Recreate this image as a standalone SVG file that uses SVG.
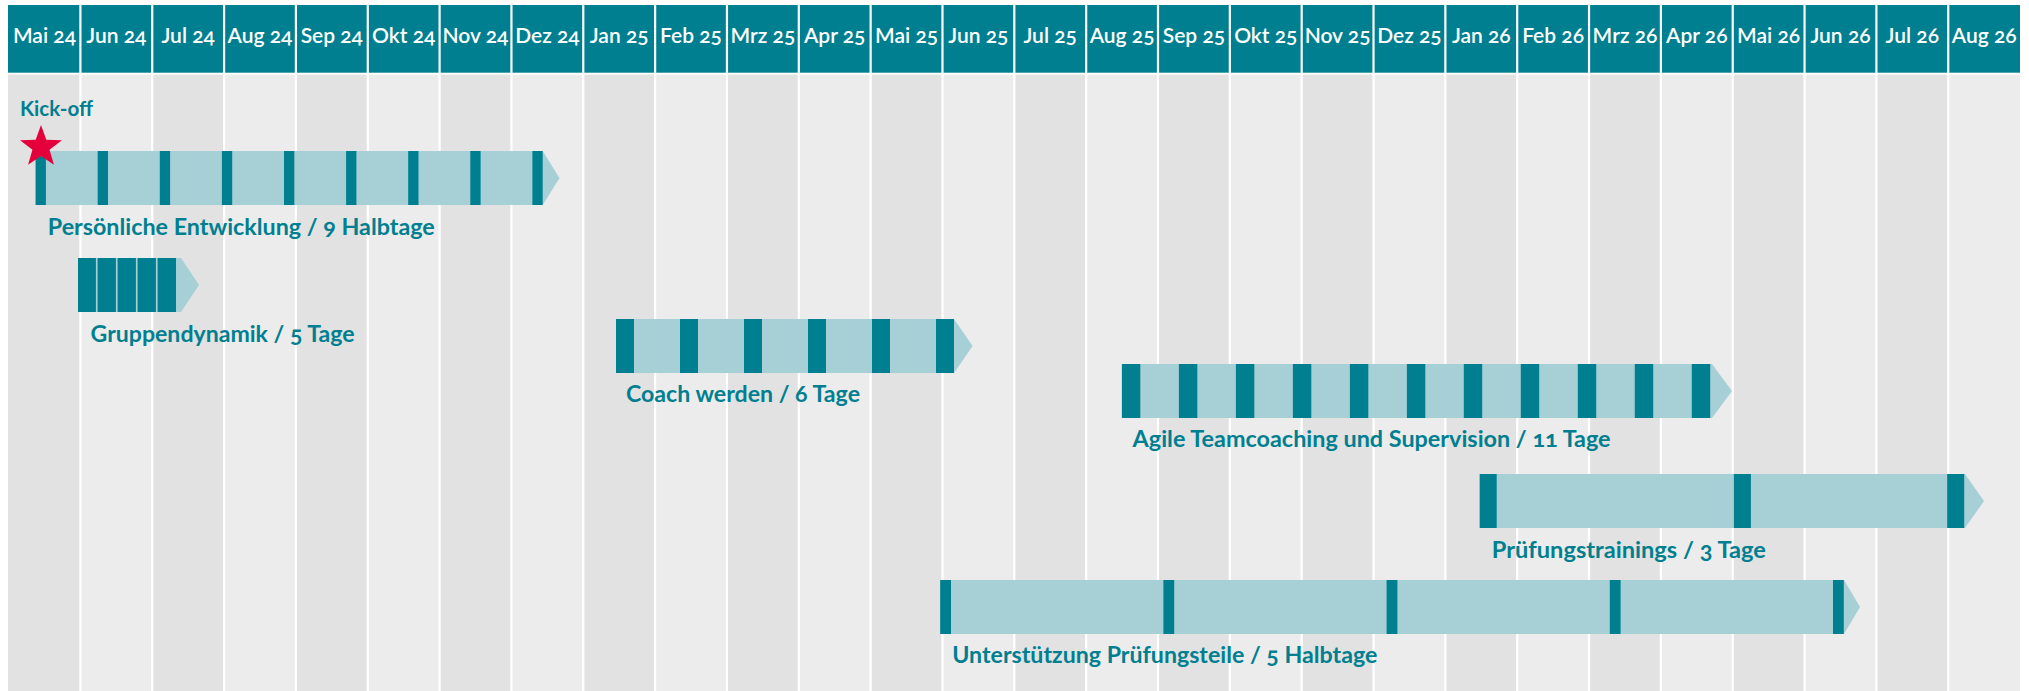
<svg xmlns="http://www.w3.org/2000/svg" width="2029" height="691" viewBox="0 0 2029 691">
<style>
.bgL{fill:#ececec}
.bgD{fill:#e2e2e2}
.hdr{fill:#007f90}
.sep{stroke:#ffffff;stroke-width:2.2}
.ht{font-family:Lato,"Liberation Sans",sans-serif;font-size:21px;font-weight:600;fill:#ffffff;text-anchor:middle;font-variant-numeric:oldstyle-nums}
.lt{fill:#a6cfd6}
.dk{fill:#007f90}
.lbl{font-family:Lato,"Liberation Sans",sans-serif;font-size:23px;font-weight:700;fill:#007f90;font-variant-numeric:oldstyle-nums}
.star{fill:#e4003b}
</style>
<rect x="0" y="0" width="2029" height="691" fill="#ffffff"/>
<g id="grid">
<rect class="bgL" x="8" y="74.7" width="2012" height="617"/>
<rect class="bgD" x="8" y="74.7" width="72.4" height="617"/>
<rect class="bgD" x="152.24" y="74.7" width="71.84" height="617"/>
<rect class="bgD" x="295.92" y="74.7" width="71.84" height="617"/>
<rect class="bgD" x="439.6" y="74.7" width="71.84" height="617"/>
<rect class="bgD" x="583.28" y="74.7" width="71.84" height="617"/>
<rect class="bgD" x="726.96" y="74.7" width="71.84" height="617"/>
<rect class="bgD" x="870.64" y="74.7" width="71.84" height="617"/>
<rect class="bgD" x="1014.32" y="74.7" width="71.84" height="617"/>
<rect class="bgD" x="1158" y="74.7" width="71.84" height="617"/>
<rect class="bgD" x="1301.68" y="74.7" width="71.84" height="617"/>
<rect class="bgD" x="1445.36" y="74.7" width="71.84" height="617"/>
<rect class="bgD" x="1589.04" y="74.7" width="71.84" height="617"/>
<rect class="bgD" x="1732.72" y="74.7" width="71.84" height="617"/>
<rect class="bgD" x="1876.4" y="74.7" width="71.84" height="617"/>
<rect class="hdr" x="8" y="5" width="2012" height="67.7"/>
<g class="sep">
<line x1="80.4" y1="5" x2="80.4" y2="691"/>
<line x1="152.24" y1="5" x2="152.24" y2="691"/>
<line x1="224.08" y1="5" x2="224.08" y2="691"/>
<line x1="295.92" y1="5" x2="295.92" y2="691"/>
<line x1="367.76" y1="5" x2="367.76" y2="691"/>
<line x1="439.6" y1="5" x2="439.6" y2="691"/>
<line x1="511.44" y1="5" x2="511.44" y2="691"/>
<line x1="583.28" y1="5" x2="583.28" y2="691"/>
<line x1="655.12" y1="5" x2="655.12" y2="691"/>
<line x1="726.96" y1="5" x2="726.96" y2="691"/>
<line x1="798.8" y1="5" x2="798.8" y2="691"/>
<line x1="870.64" y1="5" x2="870.64" y2="691"/>
<line x1="942.48" y1="5" x2="942.48" y2="691"/>
<line x1="1014.32" y1="5" x2="1014.32" y2="691"/>
<line x1="1086.16" y1="5" x2="1086.16" y2="691"/>
<line x1="1158" y1="5" x2="1158" y2="691"/>
<line x1="1229.84" y1="5" x2="1229.84" y2="691"/>
<line x1="1301.68" y1="5" x2="1301.68" y2="691"/>
<line x1="1373.52" y1="5" x2="1373.52" y2="691"/>
<line x1="1445.36" y1="5" x2="1445.36" y2="691"/>
<line x1="1517.2" y1="5" x2="1517.2" y2="691"/>
<line x1="1589.04" y1="5" x2="1589.04" y2="691"/>
<line x1="1660.88" y1="5" x2="1660.88" y2="691"/>
<line x1="1732.72" y1="5" x2="1732.72" y2="691"/>
<line x1="1804.56" y1="5" x2="1804.56" y2="691"/>
<line x1="1876.4" y1="5" x2="1876.4" y2="691"/>
<line x1="1948.24" y1="5" x2="1948.24" y2="691"/>
</g>
</g>
<g id="header">
<text class="ht" x="44.5" y="43">Mai 24</text>
<text class="ht" x="116.3" y="43">Jun 24</text>
<text class="ht" x="188.2" y="43">Jul 24</text>
<text class="ht" x="260" y="43">Aug 24</text>
<text class="ht" x="331.8" y="43">Sep 24</text>
<text class="ht" x="403.7" y="43">Okt 24</text>
<text class="ht" x="475.5" y="43">Nov 24</text>
<text class="ht" x="547.4" y="43">Dez 24</text>
<text class="ht" x="619.2" y="43">Jan 25</text>
<text class="ht" x="691" y="43">Feb 25</text>
<text class="ht" x="762.9" y="43">Mrz 25</text>
<text class="ht" x="834.7" y="43">Apr 25</text>
<text class="ht" x="906.6" y="43">Mai 25</text>
<text class="ht" x="978.4" y="43">Jun 25</text>
<text class="ht" x="1050.2" y="43">Jul 25</text>
<text class="ht" x="1122.1" y="43">Aug 25</text>
<text class="ht" x="1193.9" y="43">Sep 25</text>
<text class="ht" x="1265.8" y="43">Okt 25</text>
<text class="ht" x="1337.6" y="43">Nov 25</text>
<text class="ht" x="1409.4" y="43">Dez 25</text>
<text class="ht" x="1481.3" y="43">Jan 26</text>
<text class="ht" x="1553.1" y="43">Feb 26</text>
<text class="ht" x="1625" y="43">Mrz 26</text>
<text class="ht" x="1696.8" y="43">Apr 26</text>
<text class="ht" x="1768.6" y="43">Mai 26</text>
<text class="ht" x="1840.5" y="43">Jun 26</text>
<text class="ht" x="1912.3" y="43">Jul 26</text>
<text class="ht" x="1984.2" y="43">Aug 26</text>
</g>
<g id="connectors"></g>
<g id="persoenliche-entwicklung">
<polygon class="lt" points="35.6,151 542.7,151 559.5,178 542.7,205 35.6,205"/>
<rect class="dk" x="35.6" y="151" width="10.3" height="54"/>
<rect class="dk" x="97.7" y="151" width="10.3" height="54"/>
<rect class="dk" x="159.8" y="151" width="10.3" height="54"/>
<rect class="dk" x="221.9" y="151" width="10.3" height="54"/>
<rect class="dk" x="284" y="151" width="10.3" height="54"/>
<rect class="dk" x="346.1" y="151" width="10.3" height="54"/>
<rect class="dk" x="408.2" y="151" width="10.3" height="54"/>
<rect class="dk" x="470.3" y="151" width="10.3" height="54"/>
<rect class="dk" x="532.4" y="151" width="10.3" height="54"/>
<text class="lbl" x="47.8" y="235" textLength="387" lengthAdjust="spacingAndGlyphs">Persönliche Entwicklung / 9 Halbtage</text>
</g>
<g id="kickoff">
<text class="lbl" x="20" y="116" textLength="73" lengthAdjust="spacingAndGlyphs" style="font-size:21px">Kick-off</text>
<polygon class="star" points="41,125 46.29,139.72 61.92,140.2 49.56,149.78 53.93,164.8 41,156 28.07,164.8 32.44,149.78 20.08,140.2 35.71,139.72"/>
</g>
<g id="gruppendynamik">
<polygon class="lt" points="78,258 181,258 199,285 181,312 78,312"/>
<rect class="dk" x="78" y="258" width="17.9" height="54"/>
<rect class="dk" x="97.6" y="258" width="18.3" height="54"/>
<rect class="dk" x="117.6" y="258" width="18.3" height="54"/>
<rect class="dk" x="137.6" y="258" width="18.3" height="54"/>
<rect class="dk" x="157.6" y="258" width="18.4" height="54"/>
<text class="lbl" x="90.6" y="341.5" textLength="264" lengthAdjust="spacingAndGlyphs">Gruppendynamik / 5 Tage</text>
</g>
<g id="coach-werden">
<polygon class="lt" points="616,319 954,319 972.6,346 954,373 616,373"/>
<rect class="dk" x="616" y="319" width="18" height="54"/>
<rect class="dk" x="680" y="319" width="18" height="54"/>
<rect class="dk" x="744" y="319" width="18" height="54"/>
<rect class="dk" x="808" y="319" width="18" height="54"/>
<rect class="dk" x="872" y="319" width="18" height="54"/>
<rect class="dk" x="936" y="319" width="18" height="54"/>
<text class="lbl" x="626" y="401.5" textLength="234" lengthAdjust="spacingAndGlyphs">Coach werden / 6 Tage</text>
</g>
<g id="agile-teamcoaching">
<polygon class="lt" points="1121.9,364 1712,364 1732,391 1712,418 1121.9,418"/>
<rect class="dk" x="1121.9" y="364" width="18.4" height="54"/>
<rect class="dk" x="1178.9" y="364" width="18.4" height="54"/>
<rect class="dk" x="1235.9" y="364" width="18.4" height="54"/>
<rect class="dk" x="1292.9" y="364" width="18.4" height="54"/>
<rect class="dk" x="1349.9" y="364" width="18.4" height="54"/>
<rect class="dk" x="1406.9" y="364" width="18.4" height="54"/>
<rect class="dk" x="1463.8" y="364" width="18.4" height="54"/>
<rect class="dk" x="1520.8" y="364" width="18.4" height="54"/>
<rect class="dk" x="1577.8" y="364" width="18.4" height="54"/>
<rect class="dk" x="1634.8" y="364" width="18.4" height="54"/>
<rect class="dk" x="1691.8" y="364" width="18.4" height="54"/>
<text class="lbl" x="1132.6" y="447" textLength="478" lengthAdjust="spacingAndGlyphs">Agile Teamcoaching und Supervision / 11 Tage</text>
</g>
<g id="pruefungstrainings">
<polygon class="lt" points="1479.7,474 1965,474 1984,501 1965,528 1479.7,528"/>
<rect class="dk" x="1479.7" y="474" width="17" height="54"/>
<rect class="dk" x="1733.9" y="474" width="17" height="54"/>
<rect class="dk" x="1947.2" y="474" width="17" height="54"/>
<text class="lbl" x="1491.8" y="557.5" textLength="274" lengthAdjust="spacingAndGlyphs">Prüfungstrainings / 3 Tage</text>
</g>
<g id="unterstuetzung-pruefungsteile">
<polygon class="lt" points="940.2,580 1844,580 1860,607 1844,634 940.2,634"/>
<rect class="dk" x="940.2" y="580" width="10.8" height="54"/>
<rect class="dk" x="1163.4" y="580" width="10.8" height="54"/>
<rect class="dk" x="1386.6" y="580" width="10.8" height="54"/>
<rect class="dk" x="1609.8" y="580" width="10.8" height="54"/>
<rect class="dk" x="1833" y="580" width="10.8" height="54"/>
<text class="lbl" x="952.3" y="663" textLength="425" lengthAdjust="spacingAndGlyphs">Unterstützung Prüfungsteile / 5 Halbtage</text>
</g>
</svg>
